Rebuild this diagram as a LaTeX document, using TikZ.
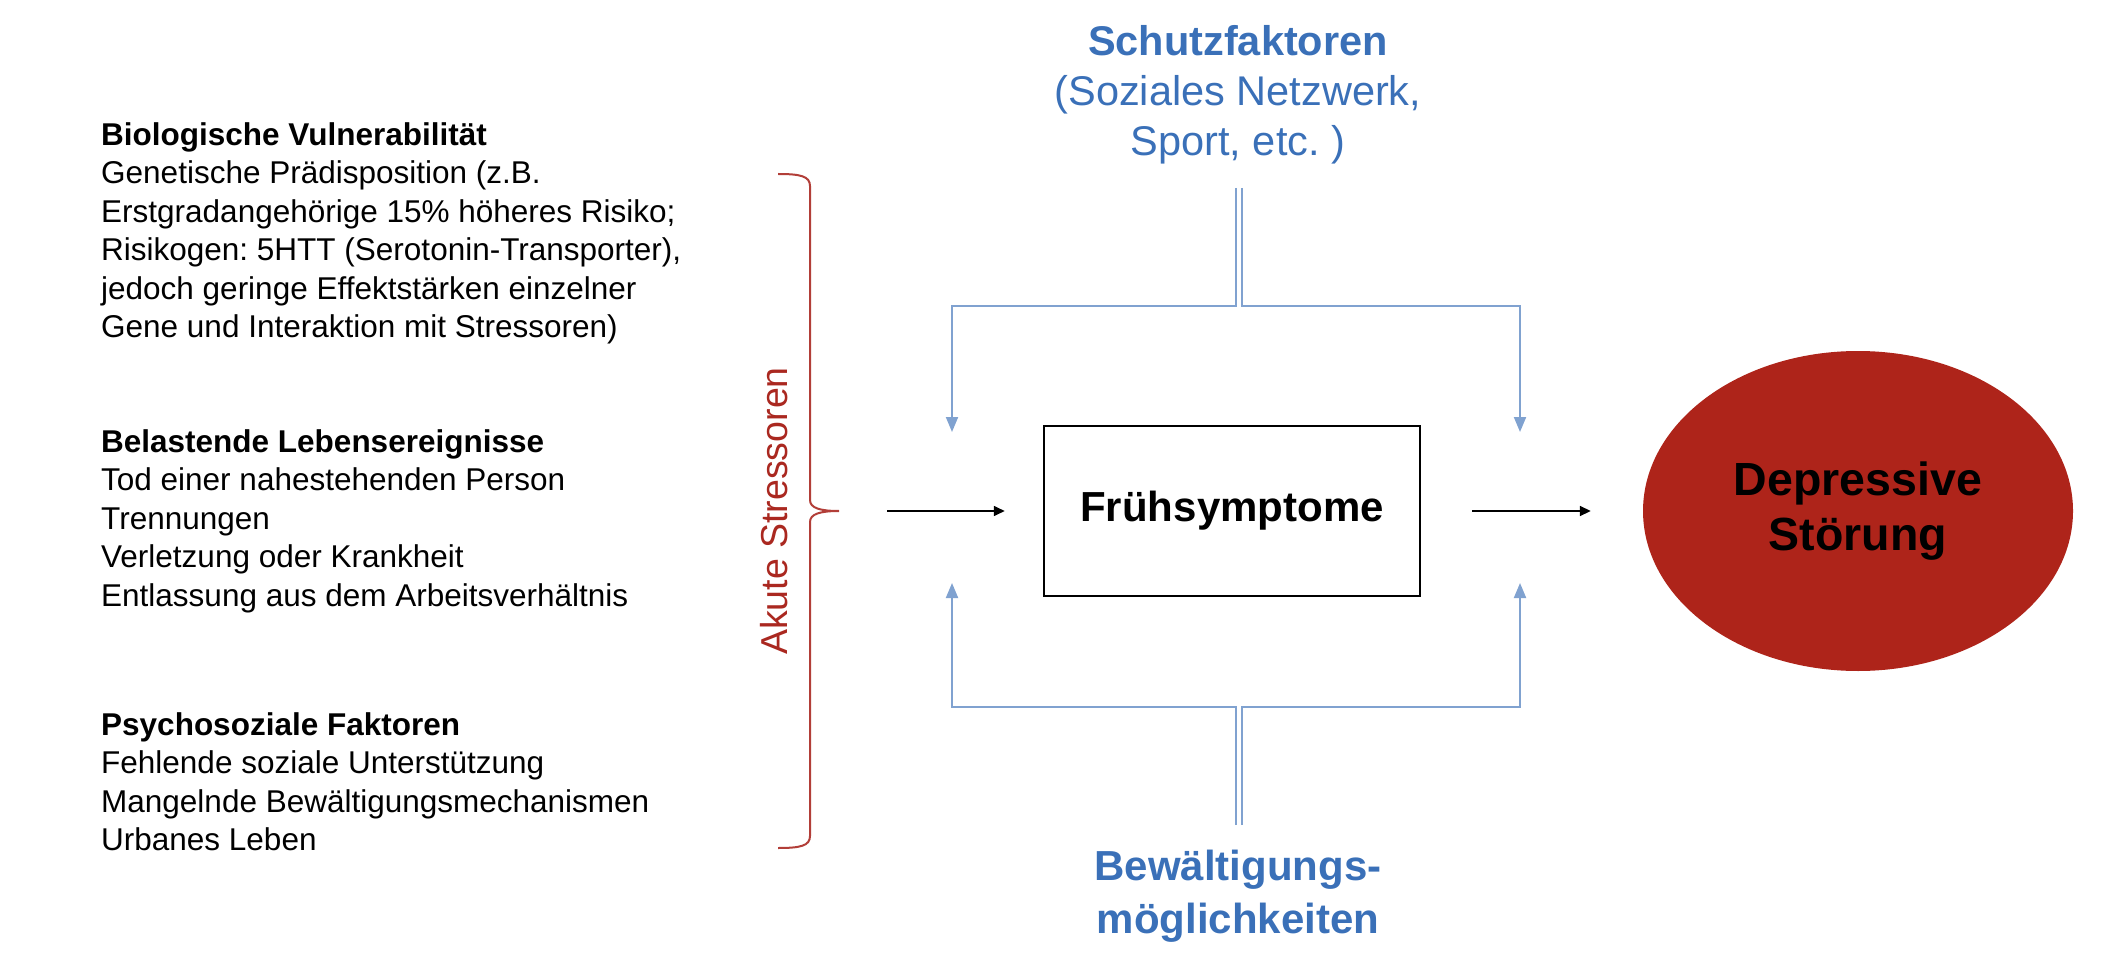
\documentclass[tikz,border=0pt]{standalone}
\usepackage{fontspec}
\setmainfont{Liberation Sans}
\usetikzlibrary{arrows.meta,shapes.geometric}
\definecolor{bluetxt}{RGB}{58,112,184}
\definecolor{blueln}{RGB}{128,162,208}
\definecolor{darkred}{RGB}{174,36,26}
\definecolor{bracered}{RGB}{178,62,56}
\definecolor{stressred}{RGB}{170,40,32}
\frenchspacing
\begin{document}
\begin{tikzpicture}[x=1pt,y=-1pt,
  lefttext/.style={anchor=north west, inner sep=0pt, align=left, font=\fontsize{31.5}{38.5}\selectfont},
  bluecon/.style={draw=blueln, line width=2pt},
  bluearr/.style={bluecon, -{Triangle[length=15pt,width=12pt]}},
  blackarr/.style={draw=black, line width=1.6pt, -{Triangle[length=11pt,width=10pt]}},
]
\useasboundingbox (0,0) rectangle (2103,973);

% left text blocks
\node[lefttext] (bio) at (101,119.8) {\rule{0pt}{0.8em}\textbf{Biologische Vulnerabilität}\\Genetische Prädisposition (z.B.\\Erstgradangehörige 15\% höheres Risiko;\\Risikogen: 5HTT (Serotonin-Transporter),\\jedoch geringe Effektstärken einzelner\\Gene und Interaktion mit Stressoren)};
\node[lefttext] (leb) at (101,426.8) {\rule{0pt}{0.8em}\textbf{Belastende Lebensereignisse}\\Tod einer nahestehenden Person\\Trennungen\\Verletzung oder Krankheit\\Entlassung aus dem Arbeitsverhältnis};
\node[lefttext] (psy) at (101,709.8) {\rule{0pt}{0.8em}\textbf{Psychosoziale Faktoren}\\Fehlende soziale Unterstützung\\Mangelnde Bewältigungsmechanismen\\Urbanes Leben};

% brace
\draw[bracered, line width=2pt] (778,174) .. controls (800,174) and (810,176) .. (810,186)
  -- (810,500) .. controls (810,508) and (820,511) .. (839,511)
  .. controls (820,511) and (810,514) .. (810,522)
  -- (810,836) .. controls (810,846) and (800,848) .. (778,848);
\node[rotate=90, anchor=base, inner sep=0pt, text=stressred, font=\fontsize{37.5}{40}\selectfont] (akut) at (787,511) {Akute Stressoren};

% top and bottom texts
\node[anchor=north, inner sep=0pt, align=center, text=bluetxt, font=\fontsize{41.5}{50}\selectfont] (schutz) at (1238,21.8) {\rule{0pt}{0.8em}\textbf{Schutzfaktoren}\\(Soziales Netzwerk,\\Sport, etc. )};
\node[anchor=north, inner sep=0pt, align=center, text=bluetxt, font=\bfseries\fontsize{42}{53}\selectfont] (bew) at (1238,846.4) {\rule{0pt}{0.8em}Bewältigungs-\\möglichkeiten};

% main nodes
\node[draw, line width=2.5pt, minimum width=376pt, minimum height=170pt, inner sep=0pt, font=\bfseries\fontsize{42}{50}\selectfont] (box) at (1232,511) {Frühsymptome};
\node[ellipse, fill=darkred, minimum width=430pt, minimum height=320pt, inner sep=0pt, align=center, font=\bfseries\fontsize{46.5}{55}\selectfont] (dep) at (1858,511) {Depressive\\Störung};

% black arrows
\coordinate (la) at (887,511);
\draw[blackarr] (la) -- ([xshift=-38pt]box.west);
\draw[blackarr] ([xshift=51pt]box.east) -- ([xshift=-52pt]dep.west);

% blue connectors
\coordinate (jT) at (0,306);
\coordinate (jB) at (0,707);
\coordinate (tl) at (1235.5,188);
\coordinate (tr) at (1241.5,188);
\coordinate (bl) at (1235.5,825);
\coordinate (br) at (1241.5,825);
\coordinate (aTL) at (952,432);
\coordinate (aTR) at (1520,432);
\coordinate (aBL) at (952,583);
\coordinate (aBR) at (1520,583);
\draw[bluearr] (tl) -- (tl|-jT) -| (aTL);
\draw[bluearr] (tr) -- (tr|-jT) -| (aTR);
\draw[bluearr] (bl) -- (bl|-jB) -| (aBL);
\draw[bluearr] (br) -- (br|-jB) -| (aBR);
\end{tikzpicture}
\end{document}
